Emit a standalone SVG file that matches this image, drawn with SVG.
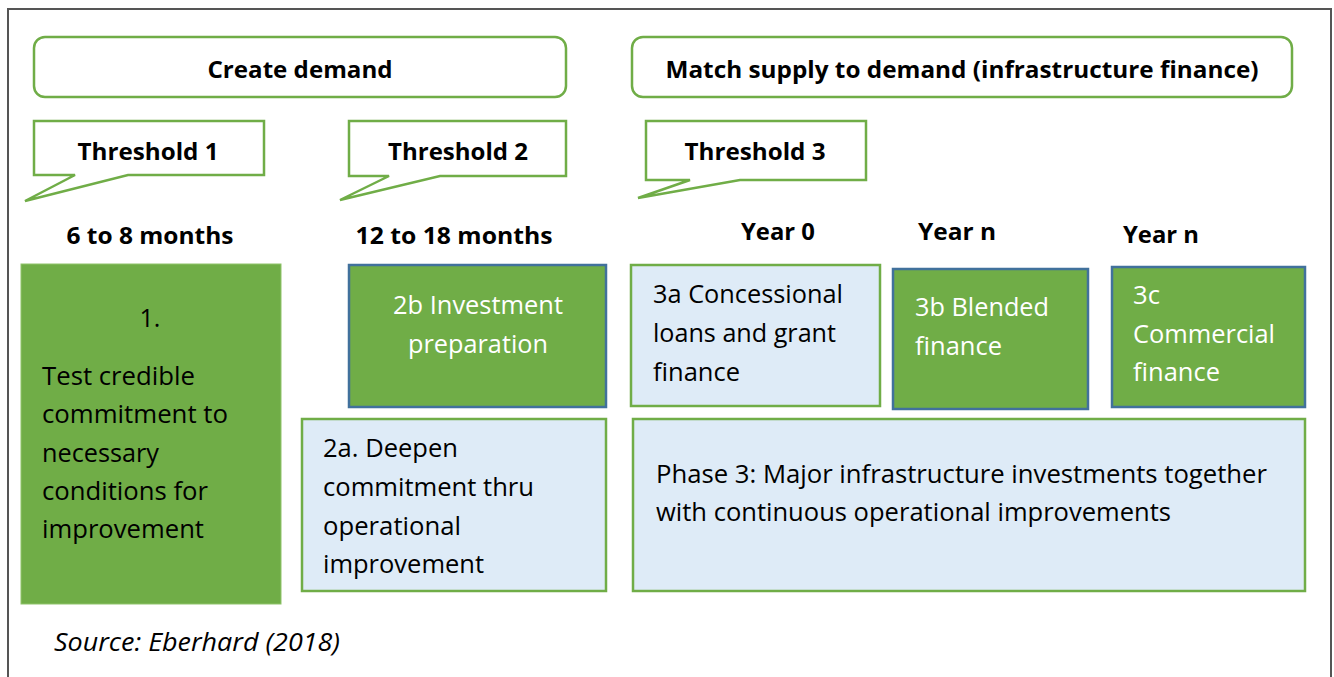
<svg xmlns="http://www.w3.org/2000/svg" width="1334" height="677" viewBox="0 0 1334 677">
<style>
text{font-family:"Open Sans","Noto Sans","Liberation Sans",sans-serif;font-size:25px;fill:#000}
.b{font-weight:bold;font-size:23px}
.w{fill:#fff}
.i{font-style:italic}
.hdr{fill:#fff;stroke:#70AD47;stroke-width:2.5}
.call{fill:#fff;stroke:#70AD47;stroke-width:2.5;stroke-linejoin:miter}
.gb{fill:#70AD47;stroke:#41719C;stroke-width:2.5}
.lb{fill:#DEEBF7;stroke:#70AD47;stroke-width:2.5}
</style>
<rect x="8" y="9" width="1323" height="690" fill="#fff" stroke="#555" stroke-width="2"/>
<g id="create-demand">
<rect class="hdr" x="34" y="37" width="532" height="60" rx="11"/>
<text class="b" x="300" y="78" text-anchor="middle" textLength="185" lengthAdjust="spacingAndGlyphs">Create demand</text>
</g>
<g id="match-supply">
<rect class="hdr" x="632" y="37" width="660" height="60" rx="11"/>
<text class="b" x="962" y="78" text-anchor="middle" textLength="593" lengthAdjust="spacingAndGlyphs">Match supply to demand (infrastructure finance)</text>
</g>
<g id="threshold1">
<path class="call" d="M34 121 H264 V175 H128 L25 201 L75 175 H34 Z"/>
<text class="b" x="148" y="160" text-anchor="middle" textLength="141" lengthAdjust="spacingAndGlyphs">Threshold 1</text>
</g>
<g id="threshold2">
<path class="call" d="M349 121 H566 V176 H440 L340 200 L389 176 H349 Z"/>
<text class="b" x="458" y="160" text-anchor="middle" textLength="140" lengthAdjust="spacingAndGlyphs">Threshold 2</text>
</g>
<g id="threshold3">
<path class="call" d="M646 121 H866 V180 H740 L638 198 L690 180 H646 Z"/>
<text class="b" x="755" y="160" text-anchor="middle" textLength="141" lengthAdjust="spacingAndGlyphs">Threshold 3</text>
</g>
<g id="time-labels">
<text class="b" x="150" y="244" text-anchor="middle" textLength="167" lengthAdjust="spacingAndGlyphs">6 to 8 months</text>
<text class="b" x="454" y="244" text-anchor="middle" textLength="197" lengthAdjust="spacingAndGlyphs">12 to 18 months</text>
<text class="b" x="778" y="240" text-anchor="middle" textLength="74" lengthAdjust="spacingAndGlyphs">Year 0</text>
<text class="b" x="957" y="240" text-anchor="middle" textLength="78" lengthAdjust="spacingAndGlyphs">Year n</text>
<text class="b" x="1161" y="243" text-anchor="middle" textLength="76" lengthAdjust="spacingAndGlyphs">Year n</text>
</g>
<g id="box1">
<rect x="21" y="264" width="260" height="340" fill="#70AD47" stroke="#8FC36B" stroke-width="1"/>
<text x="150" y="327" text-anchor="middle">1.</text>
<text x="42" y="385" textLength="153" lengthAdjust="spacingAndGlyphs">Test credible</text>
<text x="42" y="423" textLength="186" lengthAdjust="spacingAndGlyphs">commitment to</text>
<text x="42" y="462" textLength="117" lengthAdjust="spacingAndGlyphs">necessary</text>
<text x="42" y="500" textLength="166" lengthAdjust="spacingAndGlyphs">conditions for</text>
<text x="42" y="538" textLength="162" lengthAdjust="spacingAndGlyphs">improvement</text>
</g>
<g id="box2b">
<rect class="gb" x="349" y="265" width="257" height="142"/>
<text class="w" x="478" y="314" text-anchor="middle" textLength="170" lengthAdjust="spacingAndGlyphs">2b Investment</text>
<text class="w" x="478" y="353" text-anchor="middle" textLength="140" lengthAdjust="spacingAndGlyphs">preparation</text>
</g>
<g id="box2a">
<rect class="lb" x="302" y="419" width="304" height="172"/>
<text x="323" y="457" textLength="135" lengthAdjust="spacingAndGlyphs">2a. Deepen</text>
<text x="323" y="496" textLength="211" lengthAdjust="spacingAndGlyphs">commitment thru</text>
<text x="323" y="535" textLength="138" lengthAdjust="spacingAndGlyphs">operational</text>
<text x="323" y="573" textLength="161" lengthAdjust="spacingAndGlyphs">improvement</text>
</g>
<g id="box3a">
<rect class="lb" x="631" y="265" width="249" height="141"/>
<text x="653" y="303" textLength="190" lengthAdjust="spacingAndGlyphs">3a Concessional</text>
<text x="653" y="342" textLength="183" lengthAdjust="spacingAndGlyphs">loans and grant</text>
<text x="653" y="381" textLength="87" lengthAdjust="spacingAndGlyphs">finance</text>
</g>
<g id="box3b">
<rect class="gb" x="893" y="269" width="195" height="140"/>
<text class="w" x="915" y="316" textLength="134" lengthAdjust="spacingAndGlyphs">3b Blended</text>
<text class="w" x="915" y="355" textLength="87" lengthAdjust="spacingAndGlyphs">finance</text>
</g>
<g id="box3c">
<rect class="gb" x="1112" y="267" width="193" height="140"/>
<text class="w" x="1133" y="304" textLength="27" lengthAdjust="spacingAndGlyphs">3c</text>
<text class="w" x="1133" y="343" textLength="142" lengthAdjust="spacingAndGlyphs">Commercial</text>
<text class="w" x="1133" y="381" textLength="87" lengthAdjust="spacingAndGlyphs">finance</text>
</g>
<g id="phase3">
<rect class="lb" x="633" y="419" width="672" height="172"/>
<text x="656" y="483" textLength="611" lengthAdjust="spacingAndGlyphs">Phase 3: Major infrastructure investments together</text>
<text x="656" y="521" textLength="515" lengthAdjust="spacingAndGlyphs">with continuous operational improvements</text>
</g>
<g id="connectors"></g>
<text class="i" x="54" y="651" textLength="286" lengthAdjust="spacingAndGlyphs">Source: Eberhard (2018)</text>
</svg>
